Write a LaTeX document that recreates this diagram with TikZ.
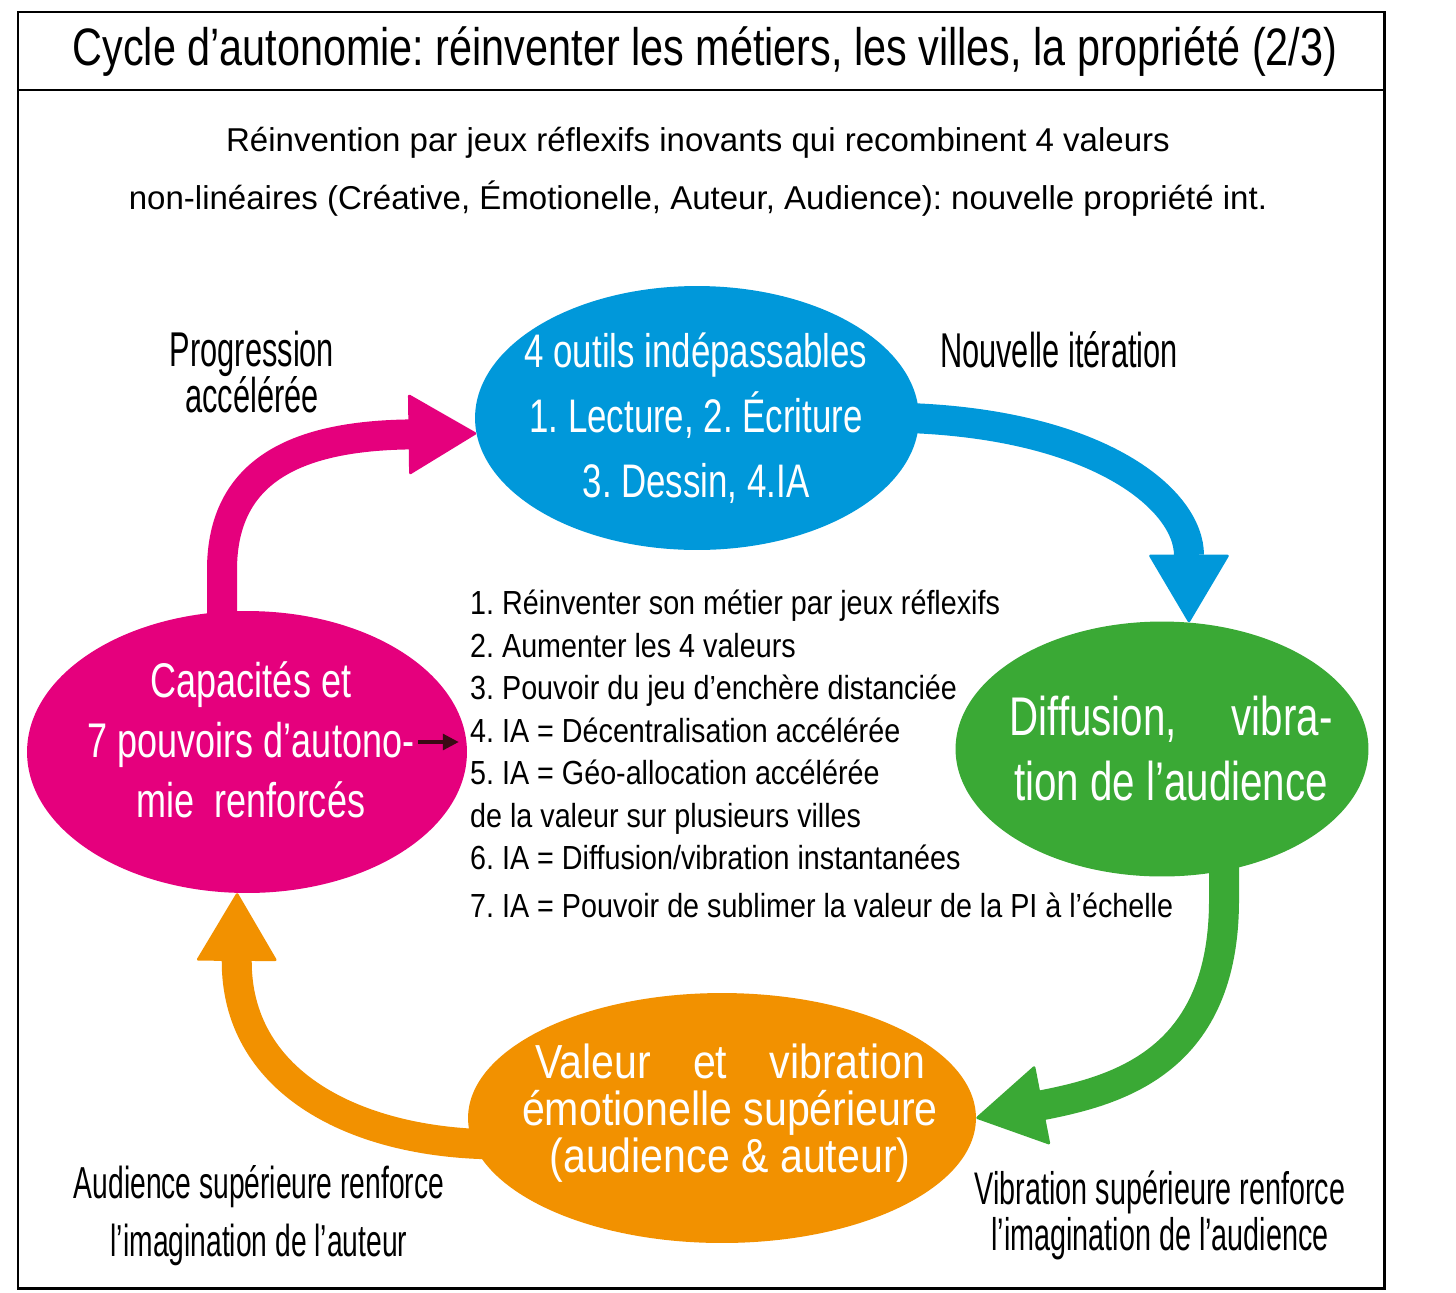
\documentclass[tikz,border=0pt]{standalone}
\usepackage{fontspec}
\setmainfont{Liberation Sans}
\newfontfamily\titlefont[FakeStretch=0.785]{Liberation Sans}
\newfontfamily\condfont[FakeStretch=0.74]{Liberation Sans}
\newfontfamily\semifont[FakeStretch=0.86]{Liberation Sans}
\newfontfamily\narrowfont[FakeStretch=0.63]{Liberation Sans}
\usetikzlibrary{arrows.meta, shapes.geometric, backgrounds}

\definecolor{toolblue}{HTML}{0098DA}
\definecolor{audgreen}{HTML}{3AA935}
\definecolor{powpink}{HTML}{E5007D}
\definecolor{valorange}{HTML}{F29100}
\definecolor{darkptr}{HTML}{3A0A14}

\frenchspacing

\begin{document}
\begin{tikzpicture}[
		x=0.02cm, y=-0.02cm, % pixel grid of the sketch, y pointing down
		bubble/.style={ellipse, inner sep=0pt},
		bubbletext/.style={text=white, align=center},
		cycarrow/.style={line width=0.6cm, -{Triangle[length=1.38cm, width=1.62cm, line width=1.5pt, round]}},
		>=latex
		]
		
		% --- 1. Frame and Title ---
		\useasboundingbox (0,0) rectangle (1456,1292);
		\draw[line width=1.7pt] (18,12) rectangle (1384,1288);
		\draw[line width=0.9pt] (18,90) -- (1384,90);
		\node[font=\titlefont\fontsize{30}{36}\selectfont] (title) at (705,52)
		{Cycle d’autonomie: réinventer les métiers, les villes, la propriété (2/3)};
		\node[align=center, font=\fontsize{18.8}{33}\selectfont] (intro) at (698,172)
		{Réinvention par jeux réflexifs inovants qui recombinent 4 valeurs\\
			non-linéaires (Créative, Émotionelle, Auteur, Audience): nouvelle propriété int.};
		
		% --- 2. The four stages ---
		\node[bubble, fill=toolblue, minimum width=8.88cm, minimum height=5.28cm] (tools) at (697,418) {};
		\node[bubble, fill=audgreen, minimum width=8.26cm, minimum height=5.1cm] (diffusion) at (1162,749) {};
		\node[bubble, fill=valorange, minimum width=10.16cm, minimum height=5cm] (value) at (722,1118) {};
		\node[bubble, fill=powpink, minimum width=8.8cm, minimum height=5.64cm] (powers) at (247,752) {};
		
		\node[bubbletext, font=\condfont\fontsize{26.8}{37}\selectfont] (tools-txt) at (696,418)
		{4 outils indépassables\\1. Lecture, 2. Écriture\\3. Dessin, 4.IA};
		\node[bubbletext, font=\condfont\fontsize{31}{37}\selectfont] (diffusion-txt) at (1171,749)
		{\makebox[6.46cm][s]{Diffusion, vibra-}\\tion de l’audience};
		\node[bubbletext, font=\semifont\fontsize{27.2}{26.7}\selectfont] (value-txt) at (730,1113)
		{\makebox[7.8cm][s]{Valeur et vibration}\\émotionelle supérieure\\(audience \& auteur)};
		\node[bubbletext, font=\condfont\fontsize{27.7}{34}\selectfont] (powers-txt) at (251,740)
		{Capacités et\\7 pouvoirs d’autono-\\mie~ renforcés};
		
		% --- 3. List of the seven powers ---
		\node[anchor=west, align=left, font=\semifont\fontsize{19}{24.2}\selectfont] (list) at (464,754)
		{1. Réinventer son métier par jeux réflexifs\\
			2. Aumenter les 4 valeurs\\
			3. Pouvoir du jeu d’enchère distanciée\\
			4. IA = Décentralisation accélérée\\
			5. IA = Géo-allocation accélérée\\
			de la valeur sur plusieurs villes\\
			6. IA = Diffusion/vibration instantanées\\[3pt]
			7. IA = Pouvoir de sublimer la valeur de la PI à l’échelle};
		
		\coordinate (ptr) at (418,742);
		\draw[darkptr, line width=1.8pt, -{Triangle[length=9pt, width=9pt]}] (ptr) -- ([xshift=-3pt]ptr -| list.west);
		
		% --- 4. Side labels ---
		\node[align=center, font=\narrowfont\fontsize{27.8}{26.7}\selectfont] (progress) at (252,372) {Progression\\accélérée};
		\node[align=center, font=\narrowfont\fontsize{27.8}{30}\selectfont] (iteration) at (1059,350) {Nouvelle itération};
		\node[align=center, font=\narrowfont\fontsize{25.5}{33}\selectfont] (authorgain) at (259,1216)
		{Audience supérieure renforce\\l’imagination de l’auteur};
		\node[align=center, font=\narrowfont\fontsize{26}{26.2}\selectfont] (audiencegain) at (1160,1215)
		{Vibration supérieure renforce\\l’imagination de l’audience};
		
		% --- 5. Cycle arrows (behind the bubbles) ---
		\begin{scope}[on background layer]
			\draw[cycarrow, powpink] ([yshift=-6pt]powers.100) -- (222,570) .. controls (222,468) and (300,436) .. (tools.184);
			\draw[cycarrow, toolblue] ([xshift=-6pt]tools.east) .. controls (1100,425) and (1189,500) .. (diffusion.78);
			\draw[cycarrow, audgreen] ([yshift=6pt]diffusion.-63) -- (1224,900) .. controls (1224,1060) and (1120,1090) .. (value.east);
			\draw[cycarrow, valorange] ([xshift=6pt]value.186) .. controls (350,1140) and (236,1080) .. (powers.266);
		\end{scope}
		
	\end{tikzpicture}
\end{document}
